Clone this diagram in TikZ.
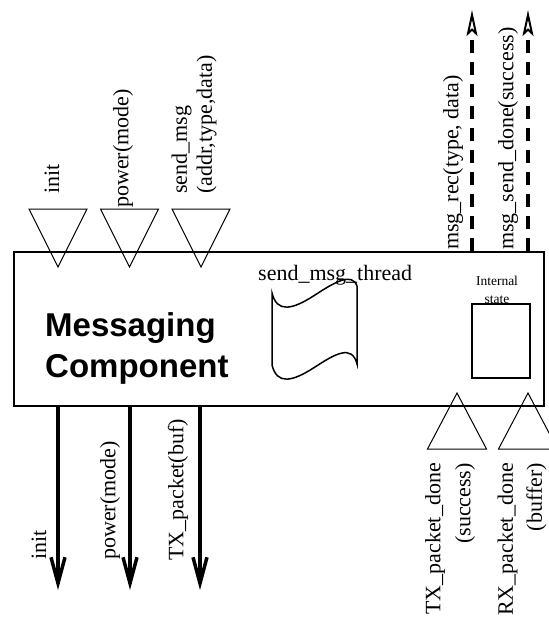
\documentclass[tikz,border=0pt]{standalone}
\usepackage{fontspec}
\setmainfont{Liberation Serif}
\newfontfamily\headfont{Liberation Sans}
\usetikzlibrary{arrows.meta}

\tikzset{
  sig/.style={rotate=90, inner sep=0pt, font=\fontsize{22}{25}\selectfont},
  port/.style={line width=1pt},
  outarrow/.style={line width=4pt, -{Straight Barb[length=26pt,width=14pt,line width=3.5pt]}},
  evarrow/.style={line width=4pt, dash pattern=on 13pt off 9pt, -{Stealth[open,length=26pt,width=11pt,inset=5pt,line width=2pt]}},
}

\begin{document}
\begin{tikzpicture}[x=1pt, y=-1pt]

\useasboundingbox (0,0) rectangle (549,619);

\clip (0,0) rectangle (549,619);

% Component

\node[draw, line width=2pt, minimum width=530pt, minimum height=154pt, inner sep=0pt] (comp) at (279,329) {};

\node[anchor=north west, align=left, inner sep=0pt, font=\headfont\bfseries\fontsize{33}{41}\selectfont] (title) at (45,312) {Messaging\\Component};

% Thread

\draw[line width=1.5pt] (272,293)
  .. controls (277,313) and (292,310) .. (315,295)
  .. controls (335,282) and (352,272) .. (357,286)
  -- (357,364)
  .. controls (352,344) and (335,354) .. (315,367)
  .. controls (292,382) and (277,385) .. (272,365)
  -- cycle;

\node[anchor=base west, inner sep=0pt, font=\fontsize{22}{25}\selectfont] (thread) at (258,280) {send\_msg\_thread};

% Internal state

\node[draw, line width=2pt, minimum width=58pt, minimum height=74pt, inner sep=0pt] (state) at (501,341) {};

\node[anchor=base, align=center, inner sep=0pt, font=\fontsize{13.5}{18}\selectfont] (statelbl) at (497,303) {Internal\\state};

% Commands in

\foreach \x in {58,129.5,201}
  \draw[port] ({\x-29},209) -- ({\x+29},209) -- (\x,267) -- cycle;

\node[sig, anchor=west] (in-init) at (52,194) {init};

\node[sig, anchor=west] (in-power) at (123,208) {power(mode)};

\node[sig, anchor=west, align=left] (in-send) at (194,194) {send\_msg\\(addr,type,data)};

% Commands out

\foreach \x/\n in {58/init,130/power,200/tx} {
  \coordinate (\n-end) at (\x,590);
  \draw[outarrow] (comp.south -| \n-end) -- (\n-end);
}

\node[sig, anchor=west] (out-init) at (39,560) {init};

\node[sig, anchor=west] (out-power) at (110,560) {power(mode)};

\node[sig, anchor=west] (out-tx) at (178,561) {TX\_packet(buf)};

% Events out

\foreach \x/\n in {472/rec,528/done} {
  \coordinate (\n-end) at (\x,10);
  \draw[evarrow] (comp.north -| \n-end) -- (\n-end);
}

\node[sig, anchor=west] (ev-rec) at (453,250) {msg\_rec(type, data)};

\node[sig, anchor=west] (ev-done) at (508,250) {msg\_send\_done(success)};

% Events in

\foreach \x in {457,528}
  \draw[port] (\x,393) -- ({\x+29.5},449) -- ({\x-29.5},449) -- cycle;

\node[sig, anchor=east, align=right] (evin-tx) at (450,463) {TX\_packet\_done\\[5pt](success)};

\node[sig, anchor=east, align=right] (evin-rx) at (522,463) {RX\_packet\_done\\[4pt](buffer)};

\end{tikzpicture}
\end{document}
